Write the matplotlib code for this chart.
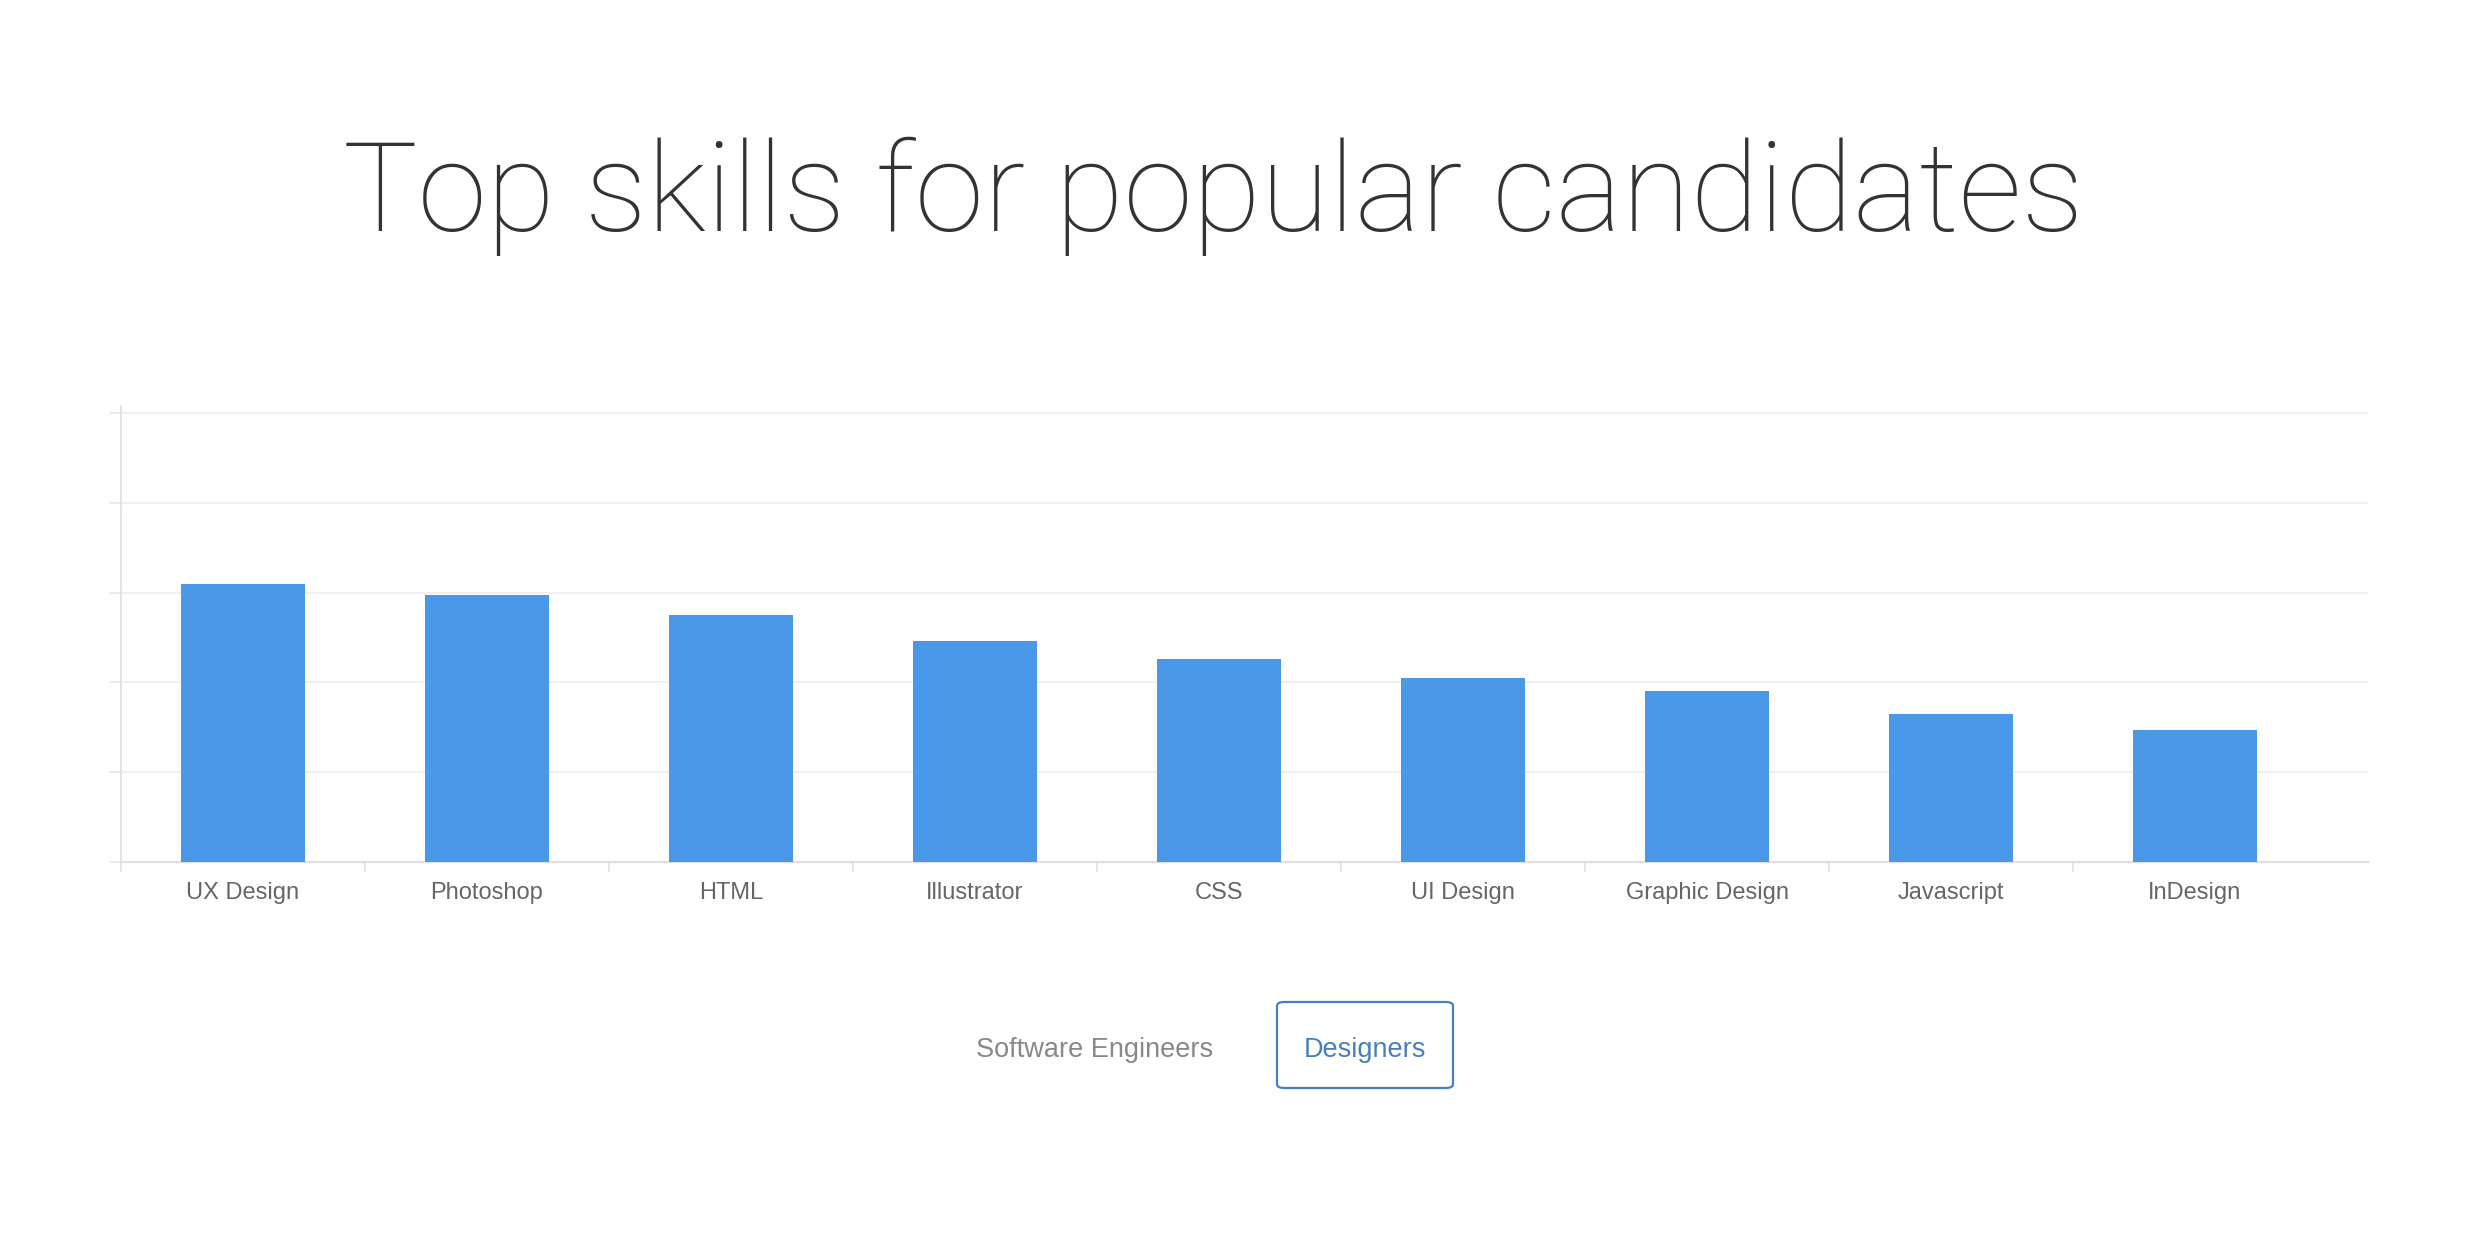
import matplotlib
matplotlib.use("Agg")
import matplotlib.pyplot as plt
from matplotlib.patches import FancyBboxPatch

# data
skills = ["UX Design", "Photoshop", "HTML", "Illustrator", "CSS",
          "UI Design", "Graphic Design", "Javascript", "InDesign"]
scores = [61.9, 59.4, 55.1, 49.3, 45.3, 41.0, 38.1, 33.0, 29.3]
grid_vals = [0, 20, 40, 60, 80, 100]
toggles = ["Software Engineers", "Designers"]

W, H = 2490, 1252
fig = plt.figure(figsize=(W / 100, H / 100), dpi=100)
fig.patch.set_facecolor("white")


def fx(px):
    return px / W


def fy(py):
    return 1 - py / H


# axes box in pixels: left 121, right 2368, top 406, bottom 862
ax = fig.add_axes([fx(121), fy(862), fx(2368) - fx(121), fy(406) - fy(862)])

x = list(range(len(skills)))
ax.bar(x, scores, width=0.51, color="#4a99e9", zorder=3)

ax.set_xlim(-0.5, len(skills) - 0.5 + 51 / 244)
ax.set_ylim(0, 101.6)

# grid
ax.set_yticks(grid_vals)
ax.set_yticklabels([])
ax.grid(axis="y", color="#f0f0f0", linewidth=1.5, zorder=0)
ax.tick_params(axis="y", length=8, width=1.2, color="#e6e6e6")

# category labels + boundary ticks
ax.set_xticks(x)
ax.set_xticklabels(skills, fontsize=17, color="#666666", family="Liberation Sans")
ax.tick_params(axis="x", which="major", length=0, pad=14.5)
ax.set_xticks([i - 0.5 for i in range(len(skills))], minor=True)
ax.tick_params(axis="x", which="minor", length=7, width=1.2, color="#e0e0e0")

for side in ["top", "right"]:
    ax.spines[side].set_visible(False)
ax.spines["left"].set_color("#e3e3e3")
ax.spines["left"].set_linewidth(1.4)
ax.spines["bottom"].set_color("#e0e0e0")
ax.spines["bottom"].set_linewidth(1.6)

# title
fig.text(fx(1213), fy(231), "Top skills for popular candidates",
         ha="center", va="baseline", fontsize=90, color="#333333",
         family="Roboto", fontweight=100)

# toggle buttons under the chart
fig.text(fx(1095), fy(1057), toggles[0], ha="center", va="baseline",
         fontsize=19.5, color="#888888", family="Liberation Sans")
fig.text(fx(1365), fy(1057), toggles[1], ha="center", va="baseline",
         fontsize=19.5, color="#4a7fbf", family="Liberation Sans")
box = FancyBboxPatch((fx(1277), fy(1088)), fx(1453) - fx(1277), fy(1002) - fy(1088),
                     boxstyle="round,pad=0,rounding_size=0.003",
                     transform=fig.transFigure, facecolor="none",
                     edgecolor="#4a7fbf", linewidth=1.6)
fig.patches.append(box)

fig.savefig("out.png", dpi=100, facecolor="white")
